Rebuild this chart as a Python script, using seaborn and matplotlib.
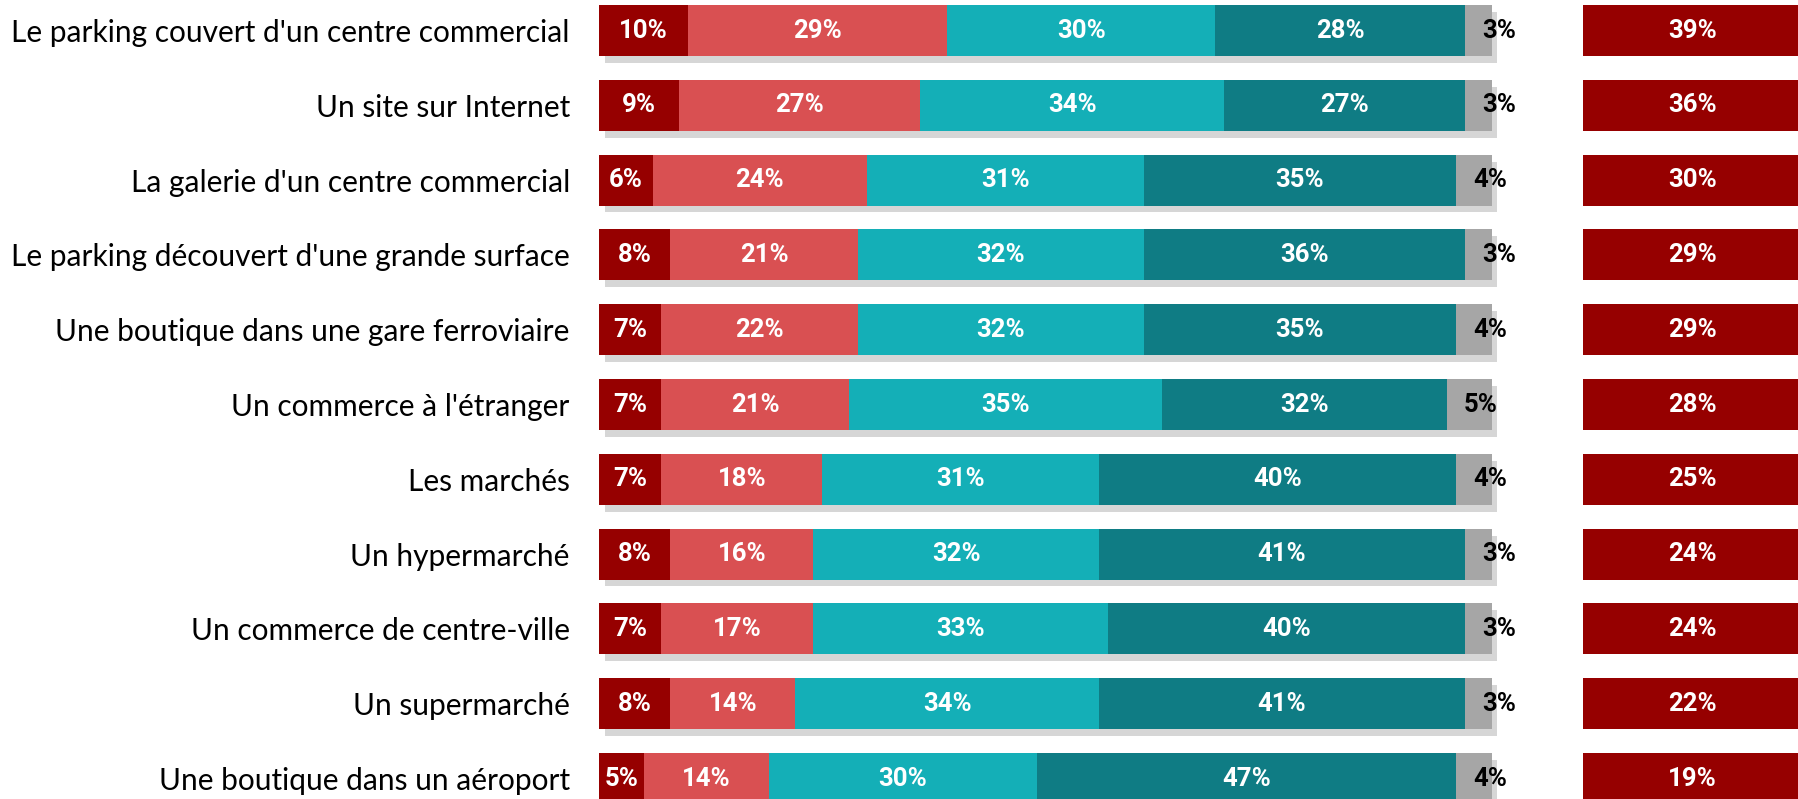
import numpy as np
import pandas as pd
import seaborn as sns
import matplotlib.pyplot as plt
import matplotlib.patheffects as pe

# données
categories = ["Le parking couvert d'un centre commercial",
              "Un site sur Internet",
              "La galerie d'un centre commercial",
              "Le parking découvert d'une grande surface",
              "Une boutique dans une gare ferroviaire",
              "Un commerce à l'étranger",
              "Les marchés",
              "Un hypermarché",
              "Un commerce de centre-ville",
              "Un supermarché",
              "Une boutique dans un aéroport"]

tout_a_fait = [10, 9, 6, 8, 7, 7, 7, 8, 7, 8, 5]
plutot_oui = [29, 27, 24, 21, 22, 21, 18, 16, 17, 14, 14]
plutot_non = [30, 34, 31, 32, 32, 35, 31, 32, 33, 34, 30]
pas_du_tout = [28, 27, 35, 36, 35, 32, 40, 41, 40, 41, 47]
nsp = [3, 3, 4, 3, 4, 5, 4, 3, 3, 3, 4]
total_oui = [39, 36, 30, 29, 29, 28, 25, 24, 24, 22, 19]

colors = ["#960000", "#D95052", "#14AFB7", "#0F7C84", "#A6A6A6"]
series = [tout_a_fait, plutot_oui, plutot_non, pas_du_tout, nsp]

plt.rcParams["font.family"] = ["Lato", "DejaVu Sans"]
val_font = dict(family=["Roboto", "DejaVu Sans"], fontsize=18.5, fontweight="bold")

fig = plt.figure(figsize=(17.99, 7.99), dpi=100)
ax = fig.add_axes([599 / 1799, 0, 1200 / 1799, 1])

vals = np.array(series, dtype=float)
cum = np.cumsum(vals, axis=0)
lefts = cum - vals

# barres empilées : on dessine les cumuls du plus long au plus court
for k in range(len(series) - 1, -1, -1):
    df = pd.DataFrame({"cat": categories, "val": cum[k]})
    n_before = len(ax.patches)
    sns.barplot(data=df, x="val", y="cat", orient="h", color=colors[k],
                width=0.68, saturation=1, ax=ax, linewidth=0)
    if k == len(series) - 1:
        for p in ax.patches[n_before:]:
            p.set_path_effects([pe.SimplePatchShadow(offset=(4, -5), shadow_rgbFace="#8a8a8a", alpha=0.35),
                                pe.Normal()])

# colonne total à droite
box_left = 110.2
df_tot = pd.DataFrame({"cat": categories, "val": [24.6] * len(categories)})
sns.barplot(data=df_tot, x="val", y="cat", orient="h", color="#960000",
            width=0.68, saturation=1, ax=ax, linewidth=0, left=box_left)

# étiquettes
for i in range(len(categories)):
    for k in range(len(series)):
        v = series[k][i]
        if k == len(series) - 1:
            ax.text(lefts[k][i] + 1.9, i, f"{v}%", ha="left", va="center",
                    color="black", **val_font)
        else:
            ax.text(lefts[k][i] + v / 2, i, f"{v}%", ha="center", va="center",
                    color="white", **val_font)
    ax.text(box_left + 12.3, i, f"{total_oui[i]}%", ha="center", va="center",
            color="white", **val_font)

ax.set_xlim(0, 134.4)
ax.set_ylim(10.274, -0.408)
ax.set_xlabel("")
ax.set_ylabel("")
ax.set_xticks([])
ax.tick_params(axis="y", length=0, pad=21, labelsize=21.5)
for s in ax.spines.values():
    s.set_visible(False)

plt.savefig("out.png", dpi=100)
